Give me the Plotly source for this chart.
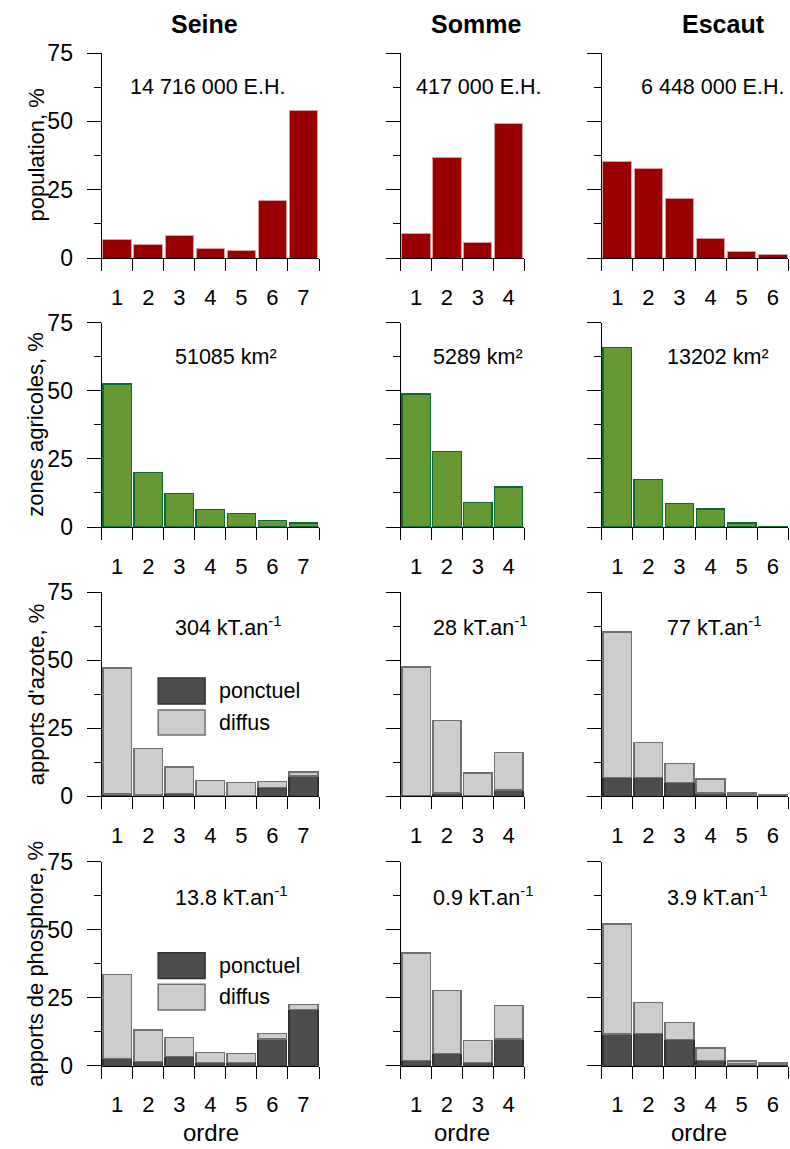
import plotly.graph_objects as go

# ---------------- data ----------------
basins = ["Seine", "Somme", "Escaut"]
orders_seine = [1, 2, 3, 4, 5, 6, 7]
orders_somme = [1, 2, 3, 4]
orders_escaut = [1, 2, 3, 4, 5, 6]

pop_seine = [6.8, 4.8, 8.3, 3.5, 2.9, 21.2, 53.8]
pop_somme = [8.9, 36.8, 5.7, 49.1]
pop_escaut = [35.4, 32.8, 21.7, 7.0, 2.4, 1.3]

agri_seine = [52.5, 20.1, 12.4, 6.5, 4.9, 2.3, 1.5]
agri_somme = [48.8, 27.7, 8.9, 14.7]
agri_escaut = [65.8, 17.3, 8.6, 6.6, 1.5, 0.3]

n_ponct_seine = [0.9, 0.5, 1.1, 0.3, 0.2, 3.3, 7.5]
n_diffus_seine = [46.2, 17.0, 9.6, 5.5, 4.8, 2.2, 1.4]
n_ponct_somme = [0.2, 1.3, 0.1, 2.3]
n_diffus_somme = [47.3, 26.6, 8.5, 13.8]
n_ponct_escaut = [6.9, 6.9, 5.0, 1.2, 0.4, 0.2]
n_diffus_escaut = [53.5, 12.9, 7.0, 5.2, 0.8, 0.3]

p_ponct_seine = [2.6, 1.5, 3.3, 1.2, 1.1, 9.8, 20.7]
p_diffus_seine = [31.0, 11.6, 7.1, 3.7, 3.4, 2.1, 1.8]
p_ponct_somme = [2.0, 4.4, 1.2, 9.9]
p_diffus_somme = [39.5, 23.3, 8.0, 12.3]
p_ponct_escaut = [11.6, 11.9, 9.7, 2.0, 0.7, 0.7]
p_diffus_escaut = [40.5, 11.4, 6.2, 4.5, 1.0, 0.4]

row_titles = ["population, %", "zones agricoles, %", "apports d'azote, %", "apports de phosphore, %"]
totals_text = [
    ["14 716 000 E.H.", "417 000 E.H.", "6 448 000 E.H."],
    ["51085 km²", "5289 km²", "13202 km²"],
    ["304 kT.an<sup>-1</sup>", "28 kT.an<sup>-1</sup>", "77 kT.an<sup>-1</sup>"],
    ["13.8 kT.an<sup>-1</sup>", "0.9 kT.an<sup>-1</sup>", "3.9 kT.an<sup>-1</sup>"],
]
legend_labels = ["ponctuel", "diffus"]

orders = [orders_seine, orders_somme, orders_escaut]
pop = [pop_seine, pop_somme, pop_escaut]
agri = [agri_seine, agri_somme, agri_escaut]
n_ponct = [n_ponct_seine, n_ponct_somme, n_ponct_escaut]
n_diffus = [n_diffus_seine, n_diffus_somme, n_diffus_escaut]
p_ponct = [p_ponct_seine, p_ponct_somme, p_ponct_escaut]
p_diffus = [p_diffus_seine, p_diffus_somme, p_diffus_escaut]

# ---------------- styling / layout ----------------
W, H = 790, 1149
FONT = "Liberation Sans, Arial, sans-serif"
col_px = [(101.7, 319.0), (400.7, 524.0), (601.7, 788.3)]
row_px = [(53.0, 258.0), (322.7, 527.0), (592.3, 796.3), (861.7, 1065.7)]

RED, RED_LINE = "#990000", "#d8a0a0"
GREEN, GREEN_LINE = "#669933", "#0b6b35"
DARK, DARK_LINE = "#4d4d4d", "#303030"
LIGHT, LIGHT_LINE = "#cccccc", "#707070"

fig = go.Figure()
layout = dict(
    width=W, height=H, autosize=False,
    margin=dict(l=0, r=0, t=0, b=0, pad=0),
    paper_bgcolor="white", plot_bgcolor="white",
    showlegend=False, barmode="stack", bargap=0.08,
    font=dict(family=FONT, color="black", size=22),
)

annotations = []
shapes = []

for r in range(4):
    for c in range(3):
        idx = r * 3 + c + 1
        xa = "x" if idx == 1 else f"x{idx}"
        ya = "y" if idx == 1 else f"y{idx}"
        xs = orders[c]
        n = len(xs)
        if r == 0:
            fig.add_trace(go.Bar(x=xs, y=pop[c], xaxis=xa, yaxis=ya,
                                 marker=dict(color=RED, line=dict(color=RED_LINE, width=1))))
        elif r == 1:
            fig.add_trace(go.Bar(x=xs, y=agri[c], xaxis=xa, yaxis=ya,
                                 marker=dict(color=GREEN, line=dict(color=GREEN_LINE, width=1.2))))
        else:
            pv = n_ponct[c] if r == 2 else p_ponct[c]
            dv = n_diffus[c] if r == 2 else p_diffus[c]
            fig.add_trace(go.Bar(x=xs, y=pv, xaxis=xa, yaxis=ya, name=legend_labels[0],
                                 marker=dict(color=DARK, line=dict(color=DARK_LINE, width=1.5))))
            fig.add_trace(go.Bar(x=xs, y=dv, xaxis=xa, yaxis=ya, name=legend_labels[1],
                                 marker=dict(color=LIGHT, line=dict(color=LIGHT_LINE, width=1.5))))

        x0, x1 = col_px[c]
        t, b = row_px[r]
        layout["xaxis" if idx == 1 else f"xaxis{idx}"] = dict(
            domain=[x0 / W, x1 / W], anchor=ya, range=[0.5, n + 0.5], automargin=False,
            showline=True, linecolor="black", linewidth=1.3, showgrid=False, zeroline=False,
            tickmode="array", tickvals=xs, ticktext=[str(v) for v in xs],
            ticks="outside", ticklen=12, tickcolor="rgba(0,0,0,0)", ticklabelstandoff=7,
            tickfont=dict(size=22, family=FONT),
            minor=dict(tickmode="array", tickvals=[v + 0.5 for v in [0] + xs],
                       ticks="outside", ticklen=12, tickwidth=1.3, tickcolor="black"),
            fixedrange=True,
        )
        layout["yaxis" if idx == 1 else f"yaxis{idx}"] = dict(
            domain=[1 - b / H, 1 - t / H], anchor=xa, range=[0, 75], automargin=False,
            showline=True, linecolor="black", linewidth=1.3, showgrid=False, zeroline=False,
            tickmode="array", tickvals=[0, 25, 50, 75],
            ticks="outside", ticklen=14, tickwidth=1.3, tickcolor="black",
            showticklabels=(c == 0), ticklabelstandoff=9,
            tickfont=dict(size=23, family=FONT),
            minor=dict(tickmode="array", tickvals=[12.5, 37.5, 62.5],
                       ticks="outside", ticklen=7, tickwidth=1.3, tickcolor="black"),
            fixedrange=True,
        )

        start_x = [[1.36, 0.94, 1.71], [2.81, 1.49, 2.55], [2.81, 1.49, 2.55], [2.81, 1.49, 2.55]][r][c]
        annotations.append(dict(text=totals_text[r][c], xref=xa, yref=ya, x=start_x, y=62.5,
                                xanchor="left", yanchor="middle", showarrow=False,
                                font=dict(size=21.5, family=FONT)))

for c, (name, cx) in enumerate(zip(basins, [204, 476, 723])):
    annotations.append(dict(text=f"<b>{name}</b>", xref="paper", yref="paper",
                            x=cx / W, y=1 - 24 / H, xanchor="center", yanchor="middle",
                            showarrow=False, font=dict(size=25, family=FONT)))

for r, title in enumerate(row_titles):
    t, b = row_px[r]
    annotations.append(dict(text=title, xref="paper", yref="paper", x=36 / W,
                            y=1 - (t + b) / 2 / H, xanchor="center", yanchor="middle",
                            textangle=-90, showarrow=False, font=dict(size=22, family=FONT)))

for cx in [211, 462, 699]:
    annotations.append(dict(text="ordre", xref="paper", yref="paper", x=cx / W, y=1 - 1132 / H,
                            xanchor="center", yanchor="middle", showarrow=False,
                            font=dict(size=24, family=FONT)))

leg = {7: (33.9, 43.5, 22.5, 31.7), 10: (32.1, 41.5, 20.5, 29.9)}
for idx, (d0, d1, l0, l1) in leg.items():
    xa, ya = f"x{idx}", f"y{idx}"
    shapes.append(dict(type="rect", xref=xa, yref=ya, x0=2.32, x1=3.83, y0=d0, y1=d1,
                       fillcolor=DARK, line=dict(color=DARK_LINE, width=1.5), layer="above"))
    shapes.append(dict(type="rect", xref=xa, yref=ya, x0=2.32, x1=3.83, y0=l0, y1=l1,
                       fillcolor=LIGHT, line=dict(color=LIGHT_LINE, width=1.5), layer="above"))
    annotations.append(dict(text=legend_labels[0], xref=xa, yref=ya, x=4.2, y=(d0 + d1) / 2,
                            xanchor="left", yanchor="middle", showarrow=False,
                            font=dict(size=21.5, family=FONT)))
    annotations.append(dict(text=legend_labels[1], xref=xa, yref=ya, x=4.2, y=(l0 + l1) / 2,
                            xanchor="left", yanchor="middle", showarrow=False,
                            font=dict(size=21.5, family=FONT)))

layout["annotations"] = annotations
layout["shapes"] = shapes
fig.update_layout(**layout)
fig.write_html("out.html", config={"displayModeBar": False},
               post_script="document.body.style.margin='0';document.body.style.overflow='hidden';")
